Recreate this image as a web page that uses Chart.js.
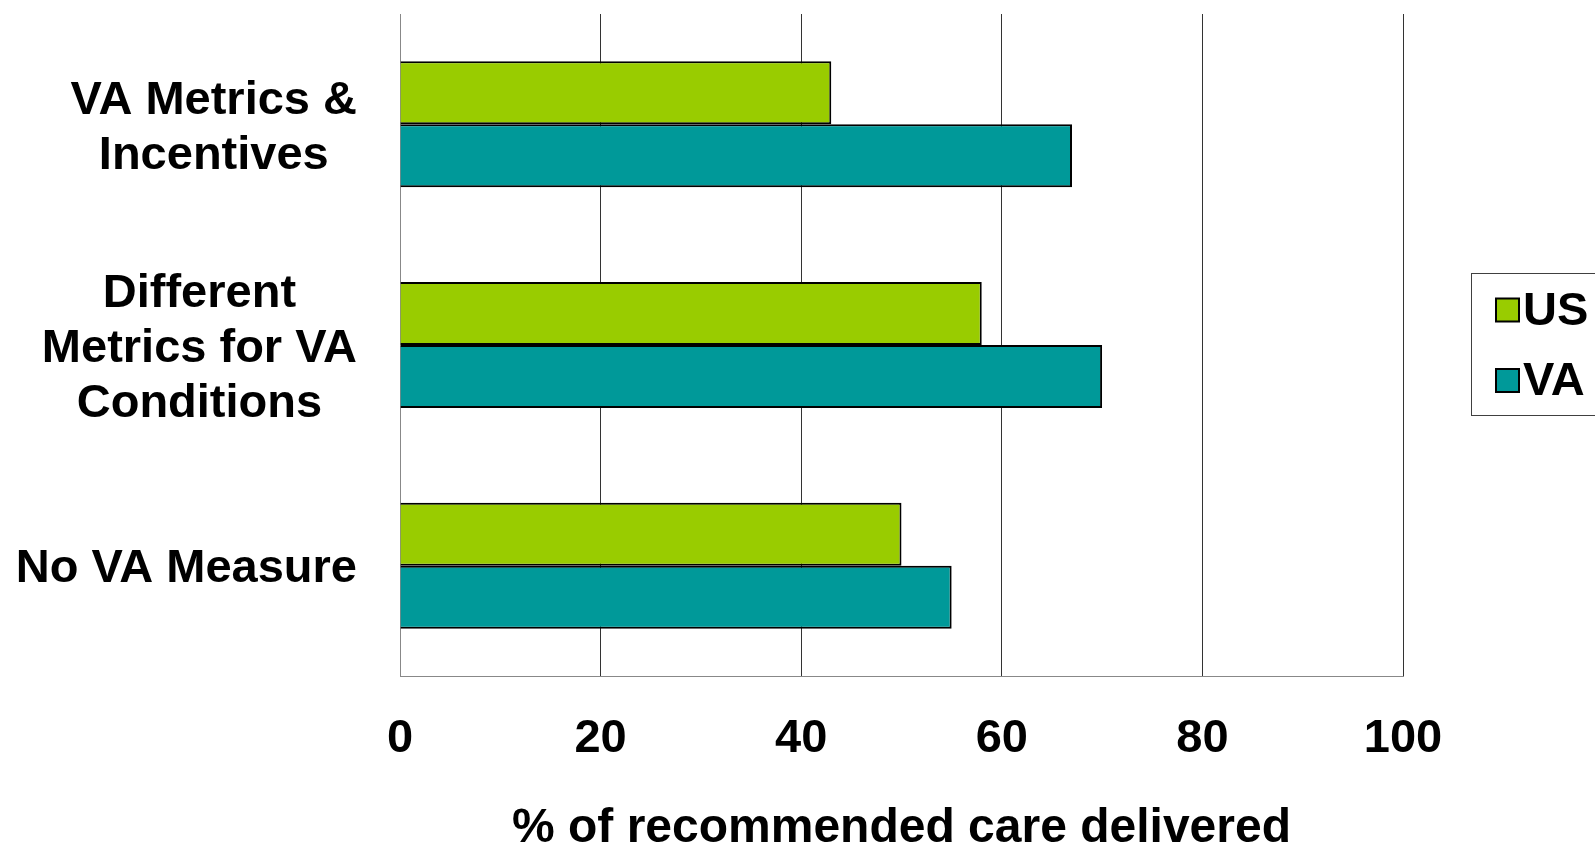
<!DOCTYPE html>
<html>
<head>
<meta charset="utf-8">
<title>% of recommended care delivered</title>
<script src="https://cdn.jsdelivr.net/npm/chart.js@4.4.1/dist/chart.umd.min.js"></script>
<style>
  html, body { margin: 0; padding: 0; background: #fff; }
  #wrap { position: relative; width: 1595px; height: 847px; }
</style>
</head>
<body>
<div id="wrap"><canvas id="chart"></canvas></div>
<script>
// data
const categories = [
  ["VA Metrics &", "Incentives"],
  ["Different", "Metrics for VA", "Conditions"],
  ["No VA Measure"]
];
const seriesNames = ["US", "VA"];
const usValues = [43, 58, 50];
const vaValues = [67, 70, 55];
const xTicks = [0, 20, 40, 60, 80, 100];
const xTitle = "% of recommended care delivered";

const GREEN = "#99CC00";
const TEAL = "#009999";
const FONT = "'Liberation Sans', Arial, Helvetica, sans-serif";

// category labels: each block centred on its own widest line, right edge fixed
const catLabels = {
  id: "catLabels",
  afterDraw(chart) {
    const { ctx } = chart;
    const y = chart.scales.y;
    const size = 47, lineGap = 55, cap = size * 0.716;
    const rightEdge = 357;
    ctx.save();
    ctx.font = `bold ${size}px ${FONT}`;
    ctx.fillStyle = "#000";
    ctx.textAlign = "center";
    ctx.textBaseline = "alphabetic";
    categories.forEach((lines, i) => {
      const cy = y.getPixelForValue(i);
      const widest = Math.max(...lines.map(l => ctx.measureText(l).width));
      const cx = rightEdge - widest / 2;
      const blockH = cap + (lines.length - 1) * lineGap;
      let base = cy - blockH / 2 + cap;
      lines.forEach(l => {
        ctx.fillText(l, cx, base);
        base += lineGap;
      });
    });
    ctx.restore();
  }
};

// legend in a frame, as on the slide (frame runs off the right edge)
const boxedLegend = {
  id: "boxedLegend",
  afterDraw(chart) {
    const { ctx, chartArea } = chart;
    const midY = (chartArea.top + chartArea.bottom) / 2;
    const left = chartArea.right + 68;
    ctx.save();
    ctx.strokeStyle = "#404040";
    ctx.lineWidth = 1;
    ctx.strokeRect(left + 0.5, Math.round(midY - 72) + 0.5, 200, 142);

    const colors = [GREEN, TEAL];
    ctx.font = `bold 47px ${FONT}`;
    ctx.textAlign = "left";
    ctx.textBaseline = "middle";
    seriesNames.forEach((name, i) => {
      const ry = midY - 35 + i * 70.5;
      ctx.fillStyle = colors[i];
      ctx.fillRect(left + 25, ry - 11.5, 23, 23);
      ctx.strokeStyle = "#000";
      ctx.lineWidth = 2;
      ctx.strokeRect(left + 25, ry - 11.5, 23, 23);
      ctx.fillStyle = "#000";
      ctx.fillText(name, left + 52, ry + 2);
    });
    ctx.restore();
  }
};

new Chart(document.getElementById("chart"), {
  type: "bar",
  data: {
    labels: categories,
    datasets: [
      { label: seriesNames[0], data: usValues, backgroundColor: GREEN, borderColor: "#000", borderWidth: 2 },
      { label: seriesNames[1], data: vaValues, backgroundColor: TEAL, borderColor: "#000", borderWidth: 2 }
    ]
  },
  options: {
    indexAxis: "y",
    responsive: true,
    maintainAspectRatio: false,
    animation: false,
    devicePixelRatio: 1,
    layout: { padding: { top: 14, right: 192, left: 0, bottom: 0 } },
    datasets: { bar: { categoryPercentage: 0.571, barPercentage: 1 } },
    plugins: {
      legend: { display: false },
      tooltip: { enabled: false }
    },
    scales: {
      x: {
        min: 0,
        max: 100,
        afterBuildTicks: (s) => { s.ticks = xTicks.map(v => ({ value: v })); },
        afterFit: (s) => { s.height = 171; },
        grid: {
          drawTicks: false,
          lineWidth: 1,
          color: (c) => (c.tick && c.tick.value === 0 ? "rgba(0,0,0,0)" : "#333")
        },
        border: { display: true, color: "#888", width: 1 },
        ticks: {
          padding: 35,
          color: "#000",
          font: { family: FONT, size: 47, weight: "bold" }
        },
        title: {
          display: true,
          text: xTitle,
          color: "#000",
          font: { family: FONT, size: 48, weight: "bold", lineHeight: 0.8 },
          padding: { top: 0, bottom: -1 }
        }
      },
      y: {
        afterFit: (s) => { s.width = 400; },
        grid: { display: false, drawTicks: false },
        border: { display: true, color: "#888", width: 1 },
        ticks: { display: false }
      }
    }
  },
  plugins: [catLabels, boxedLegend]
});
</script>
</body>
</html>
